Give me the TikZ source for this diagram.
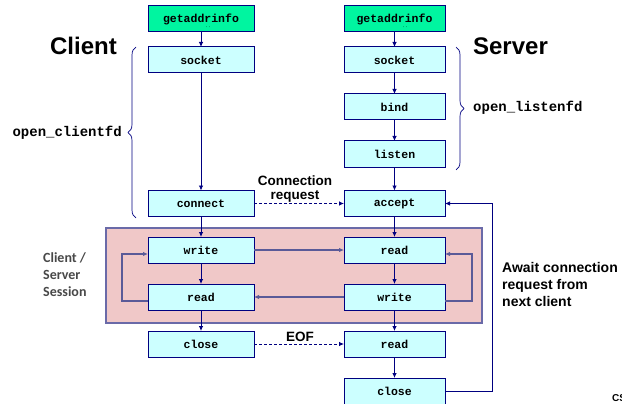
\documentclass[tikz,border=0pt]{standalone}
\usepackage{fontspec}
\setmainfont{Liberation Sans}
\setmonofont{Liberation Mono}
\newfontfamily\sessionfont{Carlito}
\usepackage{xcolor}
\definecolor{navy}{HTML}{000080}
\definecolor{callfill}{HTML}{CCFFFF}
\definecolor{addrfill}{HTML}{00F5A0}
\definecolor{sessionfill}{HTML}{F0C8C8}
\definecolor{sessionline}{HTML}{6A6AA8}
\definecolor{flow}{HTML}{5A5A98}
\definecolor{caption}{HTML}{484848}
\usepackage{tikz}
\usetikzlibrary{arrows.meta,positioning,backgrounds,decorations.pathreplacing}
\tikzset{
  call/.style={draw=navy, fill=callfill, line width=1pt, minimum width=#1, minimum height=26pt,
    inner sep=0pt, outer sep=0pt, font=\fontsize{11.5}{13}\selectfont\ttfamily\bfseries},
  call/.default=106pt,
  addr/.style={call=#1, fill=addrfill},
  addr/.default=106pt,
  arrow/.style={-{Latex[length=5pt,width=4.5pt]}, draw=navy, line width=0.8pt},
  dashedarrow/.style={arrow, dash pattern=on 3pt off 2pt},
  backarrow/.style={arrow, draw=flow, line width=1.2pt},
  title/.style={font=\fontsize{24}{28}\selectfont\bfseries, inner sep=0pt},
  fname/.style={font=\fontsize{14}{16}\selectfont\ttfamily\bfseries, inner sep=0pt},
  note/.style={font=\fontsize{13.5}{15}\selectfont\bfseries, inner sep=0pt, align=center},
  bracket/.style={draw=navy, line width=0.7pt, decorate, decoration={brace, amplitude=8pt}},
}

\begin{document}
\begin{tikzpicture}[x=1pt, y=-1pt,
    srv/.style={call=101pt}]
  \useasboundingbox (0,0) rectangle (622,404);

  % server column
  \node[addr=101pt] (sga) at (394.5,19) {getaddrinfo};
  \node[srv, below=15pt of sga] (ssock) {socket};
  \node[srv, below=21pt of ssock] (sbind) {bind};
  \node[srv, below=21pt of sbind] (slisten) {listen};
  \node[srv, below=23.5pt of slisten] (saccept) {accept};
  \node[srv, below=20.5pt of saccept] (sread) {read};
  \node[srv, below=21pt of sread] (swrite) {write};
  \node[srv, below=21pt of swrite] (sread2) {read};
  \node[srv, below=21pt of sread2] (sclose) {close};

  % client column
  \node[addr] (cga) at (201,19) {getaddrinfo};
  \node[call, below=15pt of cga] (csock) {socket};
  \node[call] (cconn) at (cga |- saccept) {connect};
  \node[call] (cwrite) at (cga |- sread) {write};
  \node[call] (cread) at (cga |- swrite) {read};
  \node[call] (cclose) at (cga |- sread2) {close};

  \node[font=\fontsize{5}{5}\selectfont\ttfamily, inner sep=0pt] (ctick) at (208,29) {``};
  \node[font=\fontsize{5}{5}\selectfont\ttfamily, inner sep=0pt] (stick) at (405,29) {``};

  % session area behind the read/write boxes
  \begin{scope}[on background layer]
    \draw[fill=sessionfill, draw=sessionline, line width=1.5pt] (106,228) rectangle (482,323);
  \end{scope}

  \foreach \a/\b in {cga/csock, csock/cconn, cconn/cwrite, cwrite/cread, cread/cclose,
                     sga/ssock, ssock/sbind, sbind/slisten, slisten/saccept,
                     saccept/sread, sread/swrite, swrite/sread2, sread2/sclose}
    \draw[arrow] (\a) -- (\b);

  \draw[dashedarrow] (cconn) -- (saccept);
  \draw[dashedarrow] (cclose) -- (sread2);
  \draw[backarrow] (cwrite) -- (sread);
  \draw[backarrow] (swrite) -- (cread);
  \draw[backarrow] ([yshift=-4pt]cread.west) -- ++(-26,0) |- ([yshift=-4pt]cwrite.west);
  \draw[backarrow] ([yshift=-4pt]swrite.east) -- ++(27,0) |- ([yshift=-4pt]sread.east);
  \draw[arrow] (sclose.east) -- ++(47,0) |- (saccept.east);

  % labels
  \node[title] (client) at (83.5,46) {Client};
  \node[title] (server) at (510.5,46) {Server};
  \draw[bracket] (136,218) -- (136,47);
  \draw[bracket] (456,47) -- (456,170);
  \node[fname, anchor=base east] (ocfd) at (122,137) {open\_clientfd};
  \node[fname, anchor=base west] (olfd) at (473,112) {open\_listenfd};
  \node[note, anchor=base] (req) at (295,200) {Connection\\request};
  \node[note, anchor=base] (eof) at (300,341) {EOF};
  \node[note, font=\fontsize{14}{17}\selectfont\bfseries, align=left, anchor=base west] (await)
    at (502,306) {Await connection\\request from\\next client};
  \node[font=\fontsize{14}{17}\selectfont\sessionfont\bfseries, text=caption, align=left,
        anchor=base west, inner sep=0pt] (sess) at (43,296) {Client /\\Server\\Session};
  \node[font=\fontsize{10}{10}\selectfont\bfseries, anchor=base west, inner sep=0pt] (cs) at (612,401) {CS:APP};
\end{tikzpicture}
\end{document}
